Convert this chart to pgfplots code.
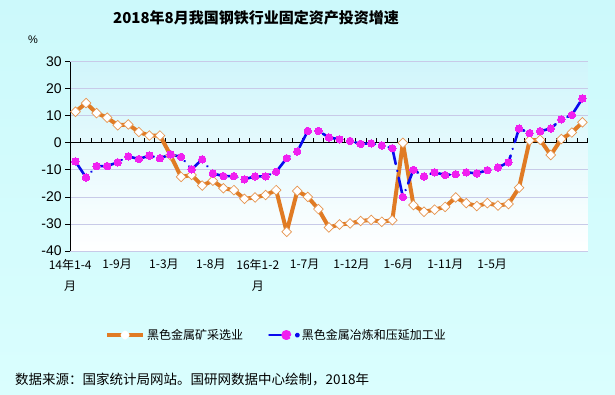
\documentclass[border=0pt]{standalone}
\usepackage{pgfplots}
\pgfplotsset{compat=1.18}
\usepackage{pgfplotstable}
\usepackage{fontspec}
\setmainfont{Liberation Sans}
\newfontfamily\cjk{Noto Sans CJK SC}
\definecolor{bgtop}{HTML}{CCF9FB}
\definecolor{bgbot}{HTML}{DAFEFE}
\definecolor{plottop}{HTML}{D0F5FB}
\definecolor{gridc}{HTML}{C8CAE8}
\definecolor{orng}{HTML}{E07B24}
\definecolor{blu}{HTML}{0A0AEE}
\definecolor{pnk}{HTML}{F020F0}

\pgfplotstableread{
x ore steel
0 11.5 -6.9
1 14.7 -12.8
2 11.0 -8.6
3 9.3 -8.6
4 6.5 -7.2
5 6.8 -5.0
6 4.0 -6.0
7 2.7 -4.7
8 2.7 -5.7
9 -4.6 -4.3
10 -12.6 -5.2
11 -11.9 -9.8
12 -15.8 -6.1
13 -14.0 -11.3
14 -16.8 -12.3
15 -17.5 -12.3
16 -20.7 -13.5
17 -20.2 -12.4
18 -19.3 -12.4
19 -17.5 -10.7
20 -32.9 -5.7
21 -17.8 -3.2
22 -20.0 4.4
23 -24.5 4.4
24 -31.3 2.0
25 -30.2 1.3
26 -29.8 0.7
27 -28.9 -0.4
28 -28.5 -0.2
29 -29.2 -1.0
30 -28.6 -2.0
31 0.0 -20.0
32 -23.0 -10.0
33 -25.5 -12.4
34 -24.7 -10.9
35 -23.7 -11.9
36 -20.2 -11.6
37 -22.3 -10.9
38 -23.4 -11.3
39 -22.3 -10.1
40 -23.2 -9.1
41 -22.6 -7.2
42 -16.6 5.3
43 0.9 3.6
44 1.1 4.3
45 -4.5 5.3
46 1.4 8.7
47 3.8 10.3
48 7.6 16.4
}\data

\begin{document}
\begin{tikzpicture}
\shade[top color=bgtop, bottom color=bgbot] (0pt,0pt) rectangle (615pt,394pt);
\useasboundingbox (0pt,0pt) rectangle (615pt,394pt);
\node[font=\cjk\bfseries\fontsize{15}{18}\selectfont] at (256pt,376pt) {2018年8月我国钢铁行业固定资产投资增速};
\node[font=\fontsize{11}{13}\selectfont] at (33pt,354pt) {\%};
\node[anchor=west, inner sep=0pt, font=\cjk\fontsize{13.5}{16}\selectfont] at (15pt,14pt) {数据来源：国家统计局网站。国研网数据中心绘制，2018年};

% axis A: background, grid, y axis, labels
\begin{axis}[
  at={(70.2pt,143pt)}, anchor=south west, scale only axis,
  width=517.5pt, height=189.3pt,
  xmin=-0.5, xmax=48.5, ymin=-40, ymax=30,
  axis x line*=bottom, axis y line*=left,
  x axis line style={draw=gridc, -},
  y axis line style={black, -, line width=1pt},
  axis background/.style={top color=plottop, middle color=white, bottom color=white},
  ymajorgrids, grid style={gridc, line width=0.8pt},
  ytick={-40,-30,...,30},
  ytick style={black, line width=0.8pt},
  tick align=outside, major tick length=5pt,
  xtick={-0.5,3.94,8.38,12.82,17.26,21.7,26.14,30.58,35.02,39.46},
  xticklabels={{14年1-4\\月},1-9月,1-3月,1-8月,{16年1-2\\月},1-7月,1-12月,1-6月,1-11月,1-5月},
  xtick style={draw=none},
  xticklabel style={font=\cjk\fontsize{12}{21}\selectfont, align=center, anchor=north},
  yticklabel style={font=\fontsize{14}{16}\selectfont},
  /pgf/number format/assume math mode=true,
]
\end{axis}

% axis B: zero line with ticks, data, legend
\begin{axis}[
  at={(70.2pt,143pt)}, anchor=south west, scale only axis,
  width=517.5pt, height=189.3pt,
  xmin=-0.5, xmax=48.5, ymin=-40, ymax=30,
  axis x line=middle, axis y line=none,
  x axis line style={black, -, line width=1pt},
  xtick={-0.5,0.5,...,48.5}, xticklabels={},
  ytick=\empty,
  major tick length=5pt, tick align=center,
  xtick style={black, line width=0.8pt, yshift=2.5pt},
  clip=false,
  legend columns=2,
  legend style={at={(0.067,-0.444)}, anchor=west, draw=none, fill=none, inner sep=0pt,
    font=\cjk\fontsize{12}{14}\selectfont,
    /tikz/every even column/.append style={column sep=23pt}},
]
\addplot[orng, line width=4pt, line join=round, mark=square*, mark size=3.4pt,
  mark options={rotate=45, fill=white, draw=orng!80, line width=0.7pt, line join=miter},
  legend image code/.code={
    \draw[orng, line width=4pt, solid] (0pt,0pt) -- (36pt,0pt);
    \fill[white] (15.5pt,0pt) -- (18pt,2.5pt) -- (20.5pt,0pt) -- (18pt,-2.5pt) -- cycle;
  }] table[x=x, y=ore] {\data};
\addlegendentry{黑色金属矿采选业}
\addplot[blu, line width=2.6pt, line cap=round, line join=round,
  dash pattern=on 20pt off 7pt on 0.01pt off 7pt,
  mark=*, mark size=3.7pt, mark options={solid, fill=pnk, draw=pnk, line width=0pt},
  legend image code/.code={
    \draw[blu, line width=2.6pt, solid] (0pt,0pt) -- (14pt,0pt);
    \fill[pnk] (17pt,0pt) circle (3.7pt);
    \fill[blu] (28pt,0pt) circle (1.3pt);
  }] table[x=x, y=steel] {\data};
\addlegendentry{黑色金属冶炼和压延加工业}
\end{axis}
\end{tikzpicture}
\end{document}
